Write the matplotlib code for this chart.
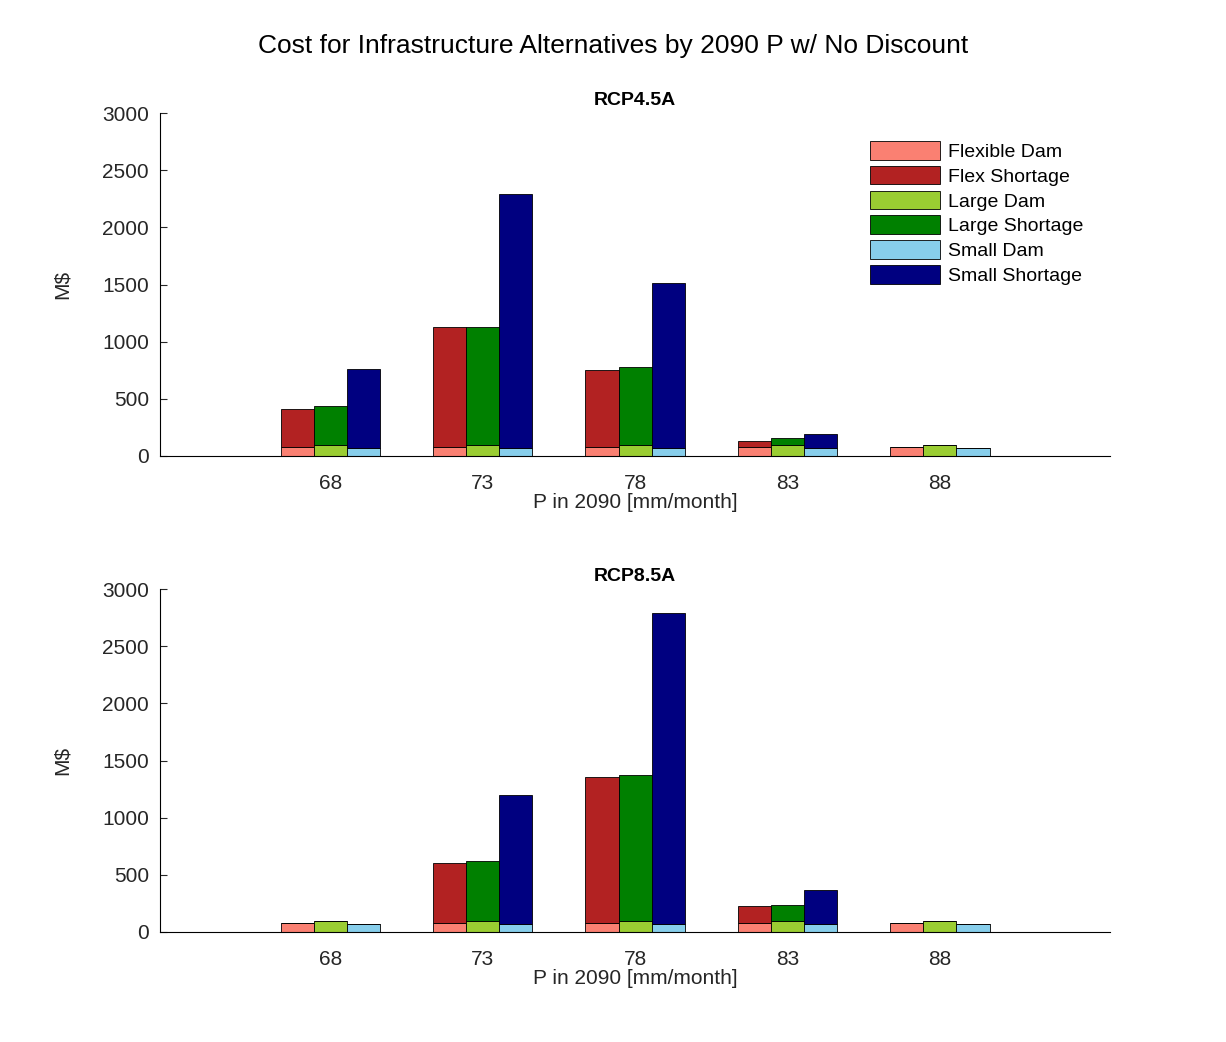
import numpy as np
import matplotlib.pyplot as plt

plt.rcParams['font.family'] = ['Liberation Sans', 'DejaVu Sans']

precip = ['68', '73', '78', '83', '88']
labels = ['Flexible Dam', 'Flex Shortage', 'Large Dam', 'Large Shortage', 'Small Dam', 'Small Shortage']
colors = ['#fa8072', '#b22222', '#9acd32', '#008000', '#87ceeb', '#000080']

# dam cost per alternative (M$)
flex_dam = [80, 80, 80, 75, 75]
large_dam = [100, 100, 100, 100, 100]
small_dam = [70, 70, 70, 70, 70]

# total cost (dam + shortage) per scenario
rcp45_total = {'flex': [415, 1130, 755, 135, 75],
               'large': [435, 1130, 775, 155, 100],
               'small': [765, 2290, 1510, 195, 70]}
rcp85_total = {'flex': [80, 605, 1360, 225, 75],
               'large': [100, 625, 1370, 240, 100],
               'small': [70, 1200, 2790, 370, 70]}

fig = plt.figure(figsize=(12.26, 10.42), dpi=100)
fig.suptitle('Cost for Infrastructure Alternatives by 2090 P w/ No Discount', fontsize=19, y=0.967)

x = np.arange(1, 6)
w = 0.217
dams = {'flex': flex_dam, 'large': large_dam, 'small': small_dam}

def panel(rect, title, totals, legend):
    ax = fig.add_axes(rect)
    handles = []
    for k, (key, off) in enumerate([('flex', -w), ('large', 0), ('small', w)]):
        d = np.array(dams[key])
        s = np.array(totals[key]) - d
        h1 = ax.bar(x + off, d, w, color=colors[2 * k], edgecolor='black', linewidth=0.6)
        h2 = ax.bar(x + off, s, w, bottom=d, color=colors[2 * k + 1], edgecolor='black', linewidth=0.6)
        handles += [h1, h2]
    ax.set_xlim(1 - 1.117, 5 + 1.117)
    ax.set_ylim(0, 3000)
    ax.set_xticks(x)
    ax.set_xticklabels(precip)
    ax.set_yticks(range(0, 3001, 500))
    ax.tick_params(direction='in', labelsize=15, length=5, colors='#262626')
    ax.tick_params(axis='x', length=0, pad=13)
    ax.tick_params(axis='y', pad=8)
    ax.spines['top'].set_visible(False)
    ax.spines['right'].set_visible(False)
    ax.set_title(title, fontsize=14, fontweight='bold')
    ax.set_xlabel('P in 2090 [mm/month]', fontsize=15, labelpad=0, color='#262626')
    ax.set_ylabel('M$', fontsize=15, color='#262626', labelpad=22)
    if legend:
        ax.legend(handles, labels, loc='upper right', frameon=False, fontsize=14,
                  handlelength=3.6, handleheight=1.1, labelspacing=0.25, handletextpad=0.4,
                  bbox_to_anchor=(0.99, 0.97))

panel([0.1305, 0.5624, 0.775, 0.329], 'RCP4.5A', rcp45_total, True)
panel([0.1305, 0.1056, 0.775, 0.329], 'RCP8.5A', rcp85_total, False)

fig.savefig('out.png', dpi=100)
